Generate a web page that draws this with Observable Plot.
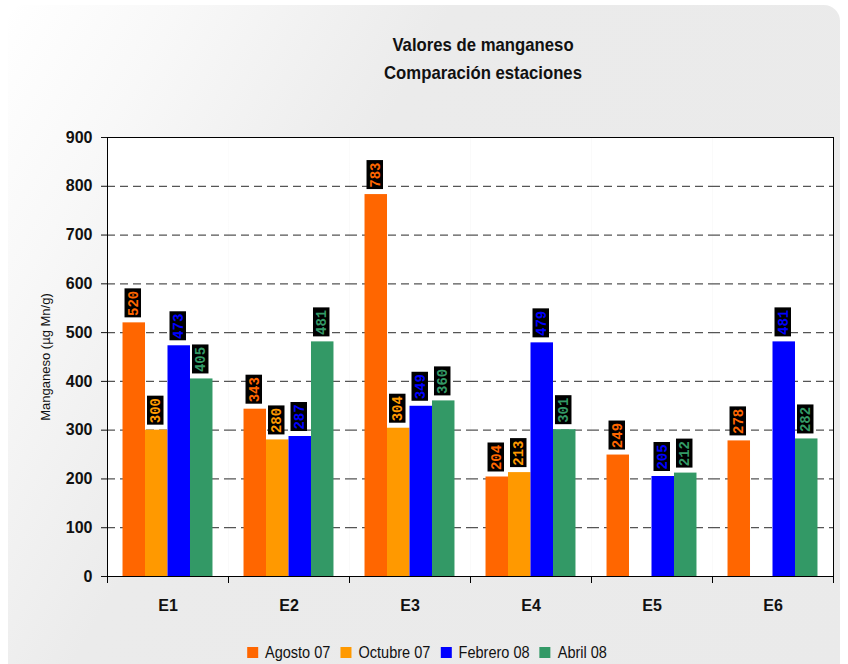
<!DOCTYPE html>
<html>
<head>
<meta charset="utf-8">
<script src="https://cdn.jsdelivr.net/npm/d3@7"></script>
<script src="https://cdn.jsdelivr.net/npm/@observablehq/plot@0.6"></script>
<style>
  body { margin: 0; background: #ffffff; }
  #chart {
    position: relative; width: 848px; height: 664px; overflow: hidden;
    font-family: "Liberation Sans", Arial, sans-serif;
  }
  #panel {
    position: absolute; left: 8px; top: 5px; width: 832px; height: 700px;
    border-radius: 16px;
    background: linear-gradient(120deg, #ffffff 0%, #f8f8f8 14%, #ebebeb 36%, #eaeaea 100%);
  }
  #plot { position: absolute; left: 0; top: 0; }
  #title {
    position: absolute; left: 283px; top: 31px; width: 400px;
    text-align: center; font-weight: bold; font-size: 19px; line-height: 28px; color: #111;
    transform: scaleX(0.88); transform-origin: 50% 50%;
  }
  #legend {
    position: absolute; left: 0; top: 636px; width: 864px;
    display: flex; justify-content: center;
    transform: scaleX(0.88); transform-origin: 432px 50%;
  }
  .lgd-swatch { margin-right: 11.5px !important; }
  .lgd-swatch > svg { margin-right: 8px !important; }
</style>
</head>
<body>
<div id="chart">
  <div id="panel"></div>
  <div id="plot"></div>
  <div id="title">Valores de manganeso<br>Comparación estaciones</div>
  <div id="legend"></div>
</div>
<script>
// Sampling stations and campaigns
const stations = ["E1", "E2", "E3", "E4", "E5", "E6"];
const series = ["Agosto 07", "Octubre 07", "Febrero 08", "Abril 08"];
const colors = ["#ff6600", "#ff9900", "#0000ff", "#339966"];

// Manganese (µg Mn/g) per station for each campaign (null = no sample)
const agosto07 = [520, 343, 783, 204, 249, 278];
const octubre07 = [300, 280, 304, 213, null, null];
const febrero08 = [473, 287, 349, 479, 205, 481];
const abril08 = [405, 481, 360, 301, 212, 282];

const yTicks = [0, 100, 200, 300, 400, 500, 600, 700, 800, 900];
const yTitle = "Manganeso (µg Mn/g)";

const valuesBySeries = [agosto07, octubre07, febrero08, abril08];
const rows = [];
stations.forEach((station, i) => {
  series.forEach((s, j) => {
    const v = valuesBySeries[j][i];
    if (v != null) rows.push({station, series: s, value: v});
  });
});

const font = '"Liberation Sans", Arial, sans-serif';
const W = 848, H = 664, mt = 137, mr = 15, mb = 88, ml = 107;
const frameH = H - mt - mb;

const chart = Plot.plot({
  width: W, height: H,
  marginTop: mt, marginRight: mr, marginBottom: mb, marginLeft: ml,
  style: {background: "transparent", fontFamily: font, color: "#111", overflow: "visible"},
  fx: {domain: stations, padding: 0, round: false, axis: null},
  x: {domain: series, paddingInner: 0, paddingOuter: 0.69, round: false, axis: null},
  y: {domain: [0, 900], axis: null},
  color: {domain: series, range: colors},
  marks: [
    Plot.frame({fill: "white"}),
    Plot.ruleY(yTicks.slice(1, -1), {stroke: "#555", strokeDasharray: "8,5", strokeWidth: 1.2}),
    Plot.barY(rows, {fx: "station", x: "series", y: "value", fill: "series"}),
    // dark label boxes above each bar
    Plot.barY(rows, {fx: "station", x: "series", y1: "value", y2: "value", fill: "black",
      insetTop: -34, insetBottom: 5, insetLeft: 2, insetRight: 4}),
    Plot.text(rows, {fx: "station", x: "series", y: "value", text: d => String(d.value),
      fill: "series", rotate: -90, dy: -19.5, dx: -1,
      fontFamily: '"Liberation Mono", "DejaVu Sans Mono", monospace', fontWeight: "bold", fontSize: 14}),
    // plot border
    Plot.frame({anchor: "top", stroke: "black"}),
    Plot.frame({anchor: "bottom", stroke: "black"}),
    Plot.frame({anchor: "left", stroke: "black", facetAnchor: "left"}),
    Plot.frame({anchor: "right", stroke: "black", facetAnchor: "right"}),
    // category boundary ticks below the x axis
    Plot.frame({anchor: "left", stroke: "black", insetTop: frameH, insetBottom: -6}),
    Plot.frame({anchor: "right", stroke: "black", insetTop: frameH, insetBottom: -6, facetAnchor: "right"}),
    Plot.axisY({ticks: yTicks, tickSize: 6, tickPadding: 9, fontSize: 16, fontWeight: "bold", label: null}),
    Plot.axisFx({anchor: "bottom", tickSize: 0, tickPadding: 23, fontSize: 16, fontWeight: "bold", label: null}),
    Plot.text([yTitle], {text: d => d, frameAnchor: "left", textAnchor: "middle", rotate: -90, dx: -62,
      facetAnchor: "left", fontSize: 13})
  ]
});
document.getElementById("plot").appendChild(chart);

const legend = Plot.legend({
  color: {domain: series, range: colors},
  swatchWidth: 12.5,
  swatchHeight: 11,
  className: "lgd",
  style: {fontFamily: font, fontSize: "16.5px", color: "#111", margin: "0"}
});
document.getElementById("legend").appendChild(legend);
</script>
</body>
</html>
